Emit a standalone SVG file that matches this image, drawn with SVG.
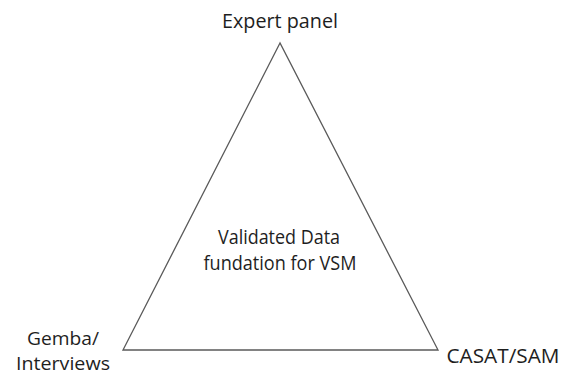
<svg xmlns="http://www.w3.org/2000/svg" width="564" height="376" viewBox="0 0 564 376">
  <style>
    text { font-family: "Open Sans", "Noto Sans", "Liberation Sans", sans-serif; font-size: 20px; fill: #1e1e1e; }
    .corner { font-size: 18.5px; }
    .edge { fill: none; stroke: #5a5a5a; stroke-width: 1.3; }
  </style>
  <rect width="564" height="376" fill="#ffffff"/>
  <g id="connectors">
    <polygon class="edge" points="280,43 123,350 438,350"/>
  </g>
  <g id="expert-panel">
    <text x="280" y="28" text-anchor="middle" textLength="116" lengthAdjust="spacingAndGlyphs">Expert panel</text>
  </g>
  <g id="gemba-interviews">
    <text class="corner" x="63" y="344.5" text-anchor="middle" textLength="72" lengthAdjust="spacingAndGlyphs">Gemba/</text>
    <text class="corner" x="63" y="370" text-anchor="middle" textLength="94" lengthAdjust="spacingAndGlyphs">Interviews</text>
  </g>
  <g id="casat-sam">
    <text x="503" y="363" text-anchor="middle" textLength="113" lengthAdjust="spacingAndGlyphs">CASAT/SAM</text>
  </g>
  <g id="validated-data">
    <text x="279" y="244" text-anchor="middle" textLength="122" lengthAdjust="spacingAndGlyphs">Validated Data</text>
    <text x="280" y="270" text-anchor="middle" textLength="153" lengthAdjust="spacingAndGlyphs">fundation for VSM</text>
  </g>
</svg>
